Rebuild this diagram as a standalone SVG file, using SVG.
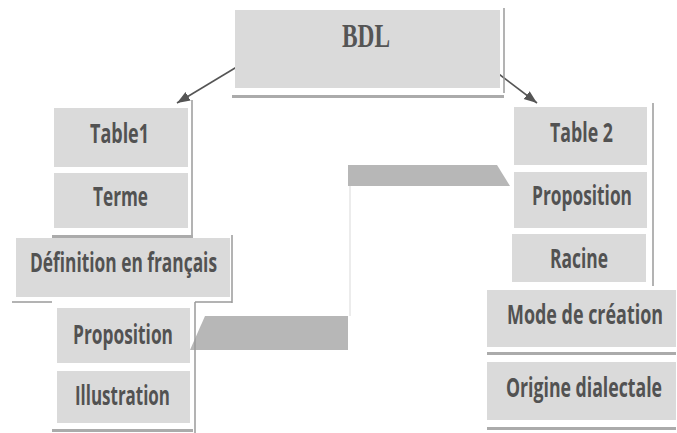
<svg xmlns="http://www.w3.org/2000/svg" width="677" height="433" viewBox="0 0 677 433">
  <style>
    .box { fill: #dadada; }
    .bar { fill: #ababab; }
    .edge { stroke: #9a9a9a; stroke-width: 1.5; fill: none; }
    .faint { stroke: #e6e6e6; stroke-width: 1.5; fill: none; }
    .para { fill: #b7b7b7; }
    .lbl { font-family: "Open Sans", "Liberation Sans", sans-serif; font-weight: bold; font-size: 27px; fill: #525252; text-anchor: middle; }
    .title { font-family: "Liberation Serif", serif; font-weight: bold; font-size: 33px; fill: #555555; text-anchor: middle; }
    .arrow { stroke: #555555; stroke-width: 1.6; fill: none; marker-end: url(#ah); }
  </style>
  <defs>
    <marker id="ah" markerUnits="userSpaceOnUse" markerWidth="14" markerHeight="12" refX="13" refY="5" orient="auto">
      <path d="M0,0 L13,5 L0,10 z" fill="#555555"/>
    </marker>
  </defs>
  <rect width="677" height="433" fill="#ffffff"/>

  <g id="connectors">
    <line class="arrow" x1="245" y1="62" x2="177" y2="103"/>
    <line class="arrow" x1="483" y1="62" x2="537" y2="103"/>
    <polygon class="para" points="205,316 348,316 348,350 190,350"/>
    <polygon class="para" points="348,165 497,165 510,186 348,186"/>
    <line class="faint" x1="350" y1="186" x2="350" y2="316"/>
  </g>

  <g id="node-bdl">
    <rect class="box" x="235" y="10" width="265" height="78"/>
    <line class="edge" x1="504" y1="8" x2="504" y2="93"/>
    <rect class="bar" x="232" y="95" width="272" height="3"/>
    <text class="title" transform="translate(366,47) scale(0.7,1)" textLength="68.6" lengthAdjust="spacingAndGlyphs">BDL</text>
  </g>

  <g id="node-table1">
    <rect class="box" x="54" y="108" width="134" height="59"/>
    <text class="lbl" transform="translate(119.5,143) scale(0.65,1)" textLength="90.8" lengthAdjust="spacingAndGlyphs">Table1</text>
  </g>
  <g id="node-terme">
    <rect class="box" x="54" y="173" width="134" height="55"/>
    <text class="lbl" transform="translate(120.5,206) scale(0.65,1)" textLength="84.6" lengthAdjust="spacingAndGlyphs">Terme</text>
    <line class="edge" x1="192" y1="100" x2="192" y2="237"/>
    <rect class="bar" x="52" y="235" width="141" height="3"/>
  </g>
  <g id="node-definition">
    <rect class="box" x="16" y="238" width="214" height="59"/>
    <text class="lbl" font-size="29" transform="translate(123.5,272) scale(0.65,1)" textLength="287.7" lengthAdjust="spacingAndGlyphs">Définition en français</text>
    <line class="edge" x1="232" y1="235" x2="232" y2="303"/>
    <line class="edge" x1="12" y1="302" x2="52" y2="302"/>
    <line class="edge" x1="195" y1="302" x2="232" y2="302"/>
  </g>
  <g id="node-proposition-left">
    <rect class="box" x="57" y="308" width="133" height="55"/>
    <text class="lbl" transform="translate(123,344) scale(0.65,1)" textLength="153.8" lengthAdjust="spacingAndGlyphs">Proposition</text>
  </g>
  <g id="node-illustration">
    <rect class="box" x="57" y="371" width="133" height="52"/>
    <text class="lbl" transform="translate(122.5,405) scale(0.65,1)" textLength="146.2" lengthAdjust="spacingAndGlyphs">Illustration</text>
    <line class="edge" x1="195" y1="302" x2="195" y2="433"/>
    <rect class="bar" x="52" y="429" width="141" height="3"/>
  </g>

  <g id="node-table2">
    <rect class="box" x="514" y="107" width="133" height="58"/>
    <text class="lbl" transform="translate(581.5,142) scale(0.65,1)" textLength="96.9" lengthAdjust="spacingAndGlyphs">Table 2</text>
  </g>
  <g id="node-proposition-right">
    <rect class="box" x="514" y="172" width="133" height="56"/>
    <text class="lbl" transform="translate(582,205) scale(0.65,1)" textLength="153.8" lengthAdjust="spacingAndGlyphs">Proposition</text>
  </g>
  <g id="node-racine">
    <rect class="box" x="512" y="234" width="134" height="48"/>
    <text class="lbl" transform="translate(579,268) scale(0.65,1)" textLength="89.2" lengthAdjust="spacingAndGlyphs">Racine</text>
    <line class="edge" x1="653" y1="103" x2="653" y2="286"/>
  </g>
  <g id="node-mode">
    <rect class="box" x="487" y="290" width="189" height="57"/>
    <text class="lbl" transform="translate(585,324) scale(0.65,1)" textLength="240" lengthAdjust="spacingAndGlyphs">Mode de création</text>
    <rect class="bar" x="487" y="352" width="189" height="3"/>
  </g>
  <g id="node-origine">
    <rect class="box" x="487" y="362" width="189" height="58"/>
    <text class="lbl" transform="translate(584,397) scale(0.65,1)" textLength="240" lengthAdjust="spacingAndGlyphs">Origine dialectale</text>
    <rect class="bar" x="487" y="427" width="189" height="3"/>
  </g>
</svg>
